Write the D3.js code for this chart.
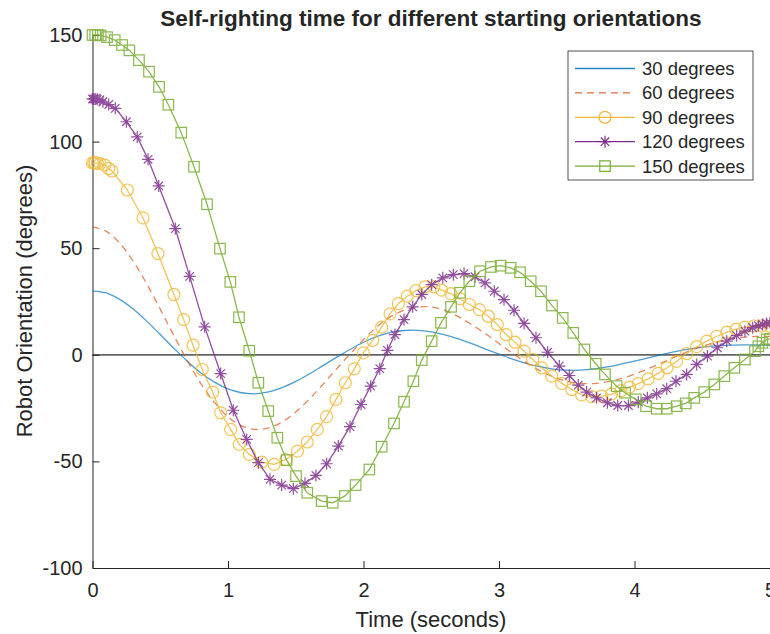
<!DOCTYPE html>
<html>
<head>
<meta charset="utf-8">
<script src="https://cdn.jsdelivr.net/npm/d3@7"></script>
<style>
  body { margin: 0; background: #fff; }
  svg { display: block; }
  text { font-family: "Liberation Sans", Arial, Helvetica, sans-serif; fill: #262626; }
</style>
</head>
<body>
<svg id="chart" width="770" height="634"></svg>
<script>
// ---- data -------------------------------------------------------------
const seriesNames = ["30 degrees", "60 degrees", "90 degrees", "120 degrees", "150 degrees"];

// evenly sampled curves (no markers)
const gridTime = [0,0.1,0.2,0.3,0.4,0.5,0.6,0.7,0.8,0.9,1.0,1.1,1.2,1.3,1.4,1.5,1.6,1.7,1.8,1.9,
  2.0,2.1,2.2,2.3,2.4,2.5,2.6,2.7,2.8,2.9,3.0,3.1,3.2,3.3,3.4,3.5,3.6,3.7,3.8,3.9,
  4.0,4.1,4.2,4.3,4.4,4.5,4.6,4.7,4.8,4.9,5.0];
const angle30 = [30,29.0,26.0,21.5,15.8,9.5,3.1,-3.0,-8.5,-12.8,-16.0,-17.8,-18.3,-17.4,-15.4,-12.5,-9.0,-5.1,-1.2,2.5,
  5.9,8.6,10.5,11.4,11.5,10.8,9.4,7.5,5.2,2.7,0.3,-2.0,-4.0,-5.6,-6.7,-7.2,-7.2,-6.6,-5.7,-4.4,
  -3.0,-1.4,0.1,1.5,2.7,3.6,4.2,4.5,4.7,4.6,4.4];
const angle60 = [60,58.0,52.4,43.9,33.3,21.4,9.1,-2.8,-13.5,-22.3,-29.1,-33.3,-35.0,-34.3,-31.5,-26.8,-20.8,-13.9,-6.7,0.3,
  7.2,13.2,17.9,20.9,22.4,22.4,20.8,17.9,14.1,9.9,5.3,0.7,-3.6,-7.4,-10.3,-12.4,-13.4,-13.5,-12.7,-11.2,
  -9.1,-6.5,-3.8,-1.0,1.7,4.0,5.9,7.3,8.2,8.6,8.6];

// solver output points (one marker each)
const time90 = [0,0.01,0.02,0.035,0.055,0.09,0.12,0.144,0.257,0.373,0.483,0.601,0.673,0.742,0.81,0.887,0.946,
  1.02,1.083,1.157,1.249,1.34,1.428,1.512,1.585,1.659,1.728,1.797,1.866,1.932,1.999,2.068,2.134,2.196,2.257,
  2.323,2.387,2.454,2.52,2.577,2.644,2.712,2.781,2.855,2.921,2.987,3.052,3.118,3.185,3.249,3.315,3.389,3.463,
  3.537,3.61,3.684,3.758,3.83,3.9,3.963,4.028,4.1,4.175,4.24,4.31,4.385,4.459,4.533,4.607,4.681,4.75,4.815,
  4.88,4.94,5.0];
const angle90 = [90,90,90,89.9,89.7,89.0,87.4,86.2,77.3,64.2,47.5,28.3,16.5,4.5,-6.9,-17.5,-27.2,
  -35.0,-42.0,-46.7,-50.3,-51.4,-49.1,-45.2,-40.9,-35.0,-29.0,-20.9,-13.1,-6.6,0.9,6.8,13.0,19.2,24.0,
  27.5,30.1,31.9,31.9,30.3,28.7,26.2,23.6,21.2,18.1,14.2,9.5,5.9,1.7,-2.2,-6.1,-10.0,-13.4,
  -16.3,-18.8,-19.6,-19.4,-18.4,-16.8,-15.2,-13.5,-11.3,-8.7,-6.1,-3.1,0.6,3.8,6.4,8.7,10.6,12.0,13.0,
  13.5,13.6,13.4];

const time120 = [0,0.01,0.02,0.035,0.055,0.077,0.12,0.168,0.25,0.33,0.41,0.489,0.611,0.717,0.828,0.946,
  1.039,1.138,1.224,1.31,1.396,1.482,1.568,1.649,1.728,1.814,1.9,1.982,2.053,2.12,2.177,2.232,2.299,2.363,
  2.43,2.503,2.585,2.663,2.742,2.823,2.897,2.965,3.037,3.111,3.185,3.273,3.359,3.445,3.519,3.585,3.647,3.72,
  3.8,3.876,3.955,4.028,4.095,4.164,4.238,4.306,4.385,4.459,4.538,4.611,4.681,4.754,4.815,4.872,4.914,4.945,
  4.975,5.0];
const angle120 = [120,120,120,119.9,119.6,118.7,117.4,115.6,109.3,102.2,91.7,79.2,59.2,36.8,13.1,-8.8,
  -26.0,-39.7,-50.6,-58.4,-61.1,-62.8,-60.3,-56.6,-51.1,-42.8,-33.7,-23.3,-14.7,-6.5,2.1,9.5,16.5,22.5,
  28.3,32.9,36.1,37.6,38.1,36.6,33.7,29.8,25.9,20.9,14.7,8.0,1.2,-5.3,-9.7,-14.2,-17.5,-20.2,
  -22.5,-23.8,-23.8,-22.2,-20.2,-18.3,-15.9,-12.4,-9.2,-4.5,-0.6,3.3,6.4,9.0,11.1,12.7,13.7,14.2,
  14.7,15.0];

const time150 = [0,0.02,0.04,0.06,0.107,0.164,0.218,0.272,0.343,0.417,0.491,0.56,0.655,0.749,0.845,0.941,
  1.017,1.081,1.157,1.224,1.297,1.364,1.433,1.502,1.585,1.691,1.773,1.863,1.942,2.043,2.134,2.225,2.299,
  2.368,2.43,2.503,2.572,2.646,2.712,2.781,2.86,2.941,3.012,3.086,3.155,3.234,3.31,3.391,3.47,3.548,3.63,
  3.714,3.782,3.868,3.93,4.009,4.085,4.164,4.238,4.311,4.378,4.441,4.515,4.589,4.663,4.737,4.815,4.889,
  4.914,4.944,4.976,5.0];
const angle150 = [150,150,150,149.8,149.0,147.6,145.3,142.8,138.2,132.8,125.7,117.3,104.2,88.2,70.6,49.8,
  34.2,17.6,1.9,-13.1,-26.4,-38.9,-49.4,-56.9,-64.7,-68.6,-69.4,-66.2,-61.1,-53.8,-43.1,-32.2,-22.0,
  -12.4,-2.5,6.4,15.0,22.5,29.1,34.5,39.2,41.2,41.8,40.8,38.7,34.5,29.8,23.1,17.3,10.3,2.5,
  -4.2,-9.2,-14.7,-17.8,-20.9,-24.1,-25.3,-25.3,-24.1,-22.8,-20.2,-17.5,-13.9,-10.0,-6.1,-2.2,1.7,
  4.0,5.6,7.2,7.5];

const xTicks = [0, 1, 2, 3, 4, 5];
const yTicks = [-100, -50, 0, 50, 100, 150];

// ---- series styling ---------------------------------------------------
const series = [
  { name: seriesNames[0], t: gridTime, v: angle30,  color: "#0072BD", opacity: 0.7,  dash: null,  marker: null,     smooth: true },
  { name: seriesNames[1], t: gridTime, v: angle60,  color: "#D95319", opacity: 0.7,  dash: "7,5", marker: null,     smooth: true },
  { name: seriesNames[2], t: time90,   v: angle90,  color: "#EDB120", opacity: 0.75, dash: null,  marker: "circle", smooth: false },
  { name: seriesNames[3], t: time120,  v: angle120, color: "#7E2F8E", opacity: 0.85, dash: null,  marker: "star",   smooth: false },
  { name: seriesNames[4], t: time150,  v: angle150, color: "#77AC30", opacity: 0.85, dash: null,  marker: "square", smooth: false }
];

// ---- layout -----------------------------------------------------------
const svg = d3.select("#chart");
const x = d3.scaleLinear().domain([0, 5]).range([92.5, 770]);
const y = d3.scaleLinear().domain([-100, 150]).range([568, 35]);

// zero reference line
svg.append("line")
  .attr("x1", x(0)).attr("x2", x(5))
  .attr("y1", y(0)).attr("y2", y(0))
  .attr("stroke", "#646464").attr("stroke-width", 1.8);

// axes (ticks pointing inward), plain hyphen for negative labels
const plainLabel = d => String(d);
const xAxis = svg.append("g").attr("transform", `translate(0,${y(-100)})`)
  .call(d3.axisBottom(x).tickValues(xTicks).tickFormat(plainLabel)
    .tickSizeInner(-7).tickSizeOuter(0).tickPadding(15));
const yAxis = svg.append("g").attr("transform", `translate(${x(0)},0)`)
  .call(d3.axisLeft(y).tickValues(yTicks).tickFormat(plainLabel)
    .tickSizeInner(-7).tickSizeOuter(0).tickPadding(10));
[xAxis, yAxis].forEach(g => {
  g.select(".domain").attr("stroke", "#262626").attr("stroke-width", 1);
  g.selectAll(".tick line").attr("stroke", "#262626").attr("stroke-width", 1);
  g.selectAll(".tick text").attr("fill", "#262626").style("font-size", "20px")
    .style("font-family", '"Liberation Sans", Arial, Helvetica, sans-serif');
});

// marker shapes
function drawMarker(g, type, cx, cy, color) {
  if (type === "circle") {
    g.append("circle").attr("cx", cx).attr("cy", cy).attr("r", 6)
      .attr("fill", "none").attr("stroke", color).attr("stroke-width", 1.2);
  } else if (type === "square") {
    const s = 10.5;
    g.append("rect").attr("x", cx - s / 2).attr("y", cy - s / 2).attr("width", s).attr("height", s)
      .attr("fill", "none").attr("stroke", color).attr("stroke-width", 1.2);
  } else if (type === "star") {
    const r = 6, d = r * Math.SQRT1_2;
    const p = `M${cx - r},${cy}L${cx + r},${cy}M${cx},${cy - r}L${cx},${cy + r}` +
              `M${cx - d},${cy - d}L${cx + d},${cy + d}M${cx - d},${cy + d}L${cx + d},${cy - d}`;
    g.append("path").attr("d", p).attr("stroke", color).attr("stroke-width", 1.2).attr("fill", "none");
  }
}

// curves
series.forEach(s => {
  const pts = s.t.map((t, i) => [t, s.v[i]]);
  const line = d3.line().x(d => x(d[0])).y(d => y(d[1]))
    .curve(s.smooth ? d3.curveCatmullRom : d3.curveLinear);
  const g = svg.append("g").attr("opacity", s.opacity);
  g.append("path").datum(pts).attr("d", line)
    .attr("fill", "none").attr("stroke", s.color).attr("stroke-width", 1.3)
    .attr("stroke-dasharray", s.dash);
  if (s.marker) pts.forEach(d => drawMarker(g, s.marker, x(d[0]), y(d[1]), s.color));
});

// title and axis labels
svg.append("text").attr("x", 431).attr("y", 26).attr("text-anchor", "middle")
  .style("font-size", "22.5px").style("font-weight", "bold").attr("fill", "#000")
  .text("Self-righting time for different starting orientations");
svg.append("text").attr("x", 431).attr("y", 627).attr("text-anchor", "middle")
  .style("font-size", "22px").text("Time (seconds)");
svg.append("text").attr("transform", "translate(32,301) rotate(-90)").attr("text-anchor", "middle")
  .style("font-size", "22px").text("Robot Orientation (degrees)");

// legend
const legend = svg.append("g");
legend.append("rect").attr("x", 568).attr("y", 51).attr("width", 185).attr("height", 129)
  .attr("fill", "#fff").attr("stroke", "#262626").attr("stroke-width", 0.8);
series.forEach((s, i) => {
  const cy = 68.5 + i * 24.4;
  const g = legend.append("g").attr("opacity", Math.min(1, s.opacity + 0.15));
  g.append("line").attr("x1", 575).attr("x2", 635).attr("y1", cy).attr("y2", cy)
    .attr("stroke", s.color).attr("stroke-width", 1.3).attr("stroke-dasharray", s.dash);
  if (s.marker) drawMarker(g, s.marker, 605, cy, s.color);
  legend.append("text").attr("x", 642).attr("y", cy + 6.5)
    .style("font-size", "18.5px").text(s.name);
});
</script>
</body>
</html>
